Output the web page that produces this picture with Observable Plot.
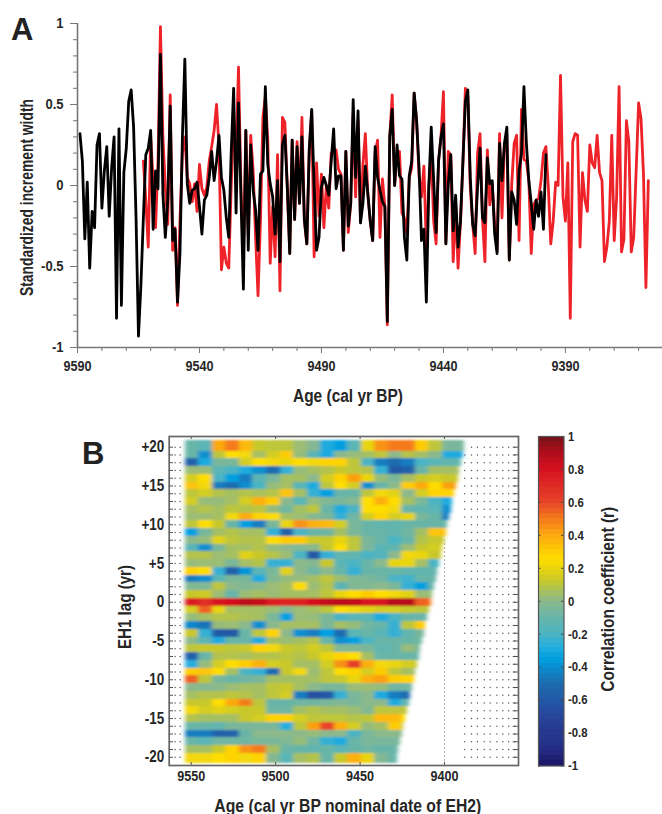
<!DOCTYPE html>
<html>
<head>
<meta charset="utf-8">
<script src="https://cdn.jsdelivr.net/npm/d3@7"></script>
<script src="https://cdn.jsdelivr.net/npm/@observablehq/plot@0.6"></script>
<style>
html,body{margin:0;padding:0;background:#fff;}
#page{position:relative;width:662px;height:814px;overflow:hidden;font-family:"Liberation Sans",sans-serif;}
.pane{position:absolute;}
.letter{position:absolute;font:bold 31px "Liberation Sans",sans-serif;color:#222;line-height:1;}
</style>
</head>
<body>
<svg width="0" height="0" style="position:absolute"><filter id="soft" x="-3%" y="-3%" width="106%" height="106%"><feGaussianBlur stdDeviation="2.2 0.9"/></filter></svg>
<div id="page"></div>
<script>
const FONT = '"Liberation Sans",sans-serif';
const INK = "#262626", AXIS = "#777";

// Panel A: standardized increment widths (one value per year)
const blackFirstAge = 9589;
const blackValues = [
 .32,.15,-.33,.02,-.51,-.16,-.26,.25,.32,-.14,
 .09,.24,-.19,.11,.30,-.82,.35,-.74,.08,.23,
 .52,.59,.36,-.20,-.93,-.61,-.20,.19,.23,.34,
 -.27,.09,-.02,.81,-.05,-.32,-.09,.49,-.34,-.27,
 -.72,-.42,.30,.78,.01,-.11,-.03,-.02,.02,-.13,
 -.30,-.09,-.06,.05,.21,.03,.15,.31,.05,-.03,
 -.20,-.32,.20,.60,-.17,.51,-.07,-.64,.34,-.40,
 .25,-.03,-.15,-.40,.07,.09,.61,.13,.01,-.07,
 -.30,
 .03,-.47,.25,.31,-.01,-.42,.28,-.21,.24,-.11,
 .30,-.21,-.36,.22,.47,-.01,-.40,-.32,-.01,.05,
 0,-.06,.15,.35,-.02,.06,.06,-.40,.21,-.25,
 -.11,.53,.05,.46,-.23,-.11,.12,-.05,-.22,-.34,
 .24,.05,-.03,-.10,-.13,-.84,.30,.47,0,.25,
 .06,.04,-.32,-.46,.06,.15,.57,.40,.11,-.34,
 -.27,-.72,-.01,.36,.03,-.29,.15,.30,.38,-.36,
 .01,.19,-.28,-.06,-.38,-.22,.15,.52,.59,
 .05,-.24,-.31,-.01,.23,-.20,-.23,.17,.01,.03,
 -.30,-.42,.26,.03,.26,.36,-.46,-.04,-.09,-.24,
 .09,.20,.61,.26,.03,-.11,-.27,-.09,-.19,-.04,
 -.27,.19
];
const redFirstAge = 9563;
const redValues = [
 .15,-.09,-.38,.30,
 .03,-.26,.15,.98,.30,-.01,-.24,.56,-.40,-.26,
 -.74,-.22,.20,.30,.05,.01,-.10,.01,-.16,.13,
 -.02,-.06,-.01,.15,.24,.34,.50,.24,-.52,-.38,
 -.48,-.51,-.01,.40,.20,.73,-.01,-.46,.34,-.30,
 .31,.09,-.32,-.68,-.22,.42,.55,.28,-.48,-.13,
 -.44,
 .19,-.65,.42,.39,-.01,-.42,.28,-.21,.27,-.11,
 .42,-.22,-.36,.22,.46,-.44,.14,-.19,.07,-.26,
 0,-.14,.20,.22,.22,.10,.07,-.40,.21,-.29,
 -.11,.44,-.07,.40,-.23,.13,.32,-.05,-.22,-.34,
 .20,.28,-.32,.04,-.13,-.86,.30,.56,0,.20,
 .21,-.17,-.20,-.30,.05,.11,.57,.40,.06,-.07,
 .12,-.38,-.01,.20,-.22,-.36,.15,.30,.58,-.36,
 .21,.19,-.47,-.13,-.51,-.22,.15,.60,.55,
 -.01,-.24,-.42,.20,.32,-.20,-.47,.22,-.12,.01,
 -.24,-.40,.32,-.20,.24,.32,-.46,.01,.26,.31,
 -.34,.47,.16,.15,.03,-.42,-.12,-.09,-.08,.03,
 .20,.24,-.01,-.36,-.22,.02,0,.68,-.07,-.22,
 .14,-.82,.27,.32,.31,-.38,.08,-.09,-.16,.25,
 .14,.11,.31,.08,.03,-.47,-.38,-.22,.31,-.34,
 -.07,.61,-.41,-.33,.40,.27,-.41,-.32,.09,.51,
 .41,.07,-.63,.03
];
const ageTicksA = [9590,9540,9490,9440,9390];
const ageMinorA = [9580,9570,9560,9550,9530,9520,9510,9500,9480,9470,9460,9450,9430,9420,9410,9400,9380,9370,9360];
const widthTicks = [-1,-.5,0,.5,1];
const widthMinor = [-.9,-.8,-.7,-.6,-.4,-.3,-.2,-.1,.1,.2,.3,.4,.6,.7,.8,.9];

// Panel B: correlation read per 8-yr block, lag +20 (top) to -20 (bottom)
const lags = d3.range(20,-21,-1);
const corrByLag = [
 [-.1,-.15,.4,.5,.35,.12,.1,.1,.03,-.02,-.3,-.35,-.15,.2,.45,.5,.5,.3,.1,-.05,-.05],
 [-.1,-.4,.1,.25,.22,.05,.15,.3,.02,-.15,-.3,0,.02,.05,.1,0,.08,.05,0,-.3,-.3],
 [-.55,-.3,-.05,-.05,.15,.25,.22,.2,.25,.22,.28,.28,.1,-.2,-.45,-.5,-.45,-.2,-.15,-.12],
 [.03,.03,-.15,-.2,-.3,-.4,-.5,-.25,.02,.05,.08,.12,.1,.08,-.25,-.6,-.55,-.1,.05,.05],
 [.15,.25,-.2,-.35,-.45,-.15,-.05,.05,.05,0,.15,.28,.42,.2,.02,-.05,.05,.12,.15,.12],
 [.32,.22,-.45,-.5,-.4,-.2,.02,.05,-.15,-.3,.1,.25,.15,-.4,-.1,0,.3,.4,.25,.42],
 [.1,.15,.08,.05,.08,.06,.08,.32,.05,-.25,-.35,-.1,-.1,.1,.22,.18,0,.15,.28,.28],
 [.15,.02,.02,.05,.15,.38,.3,0,-.15,.02,-.03,-.05,-.02,.25,.38,.25,.05,-.05,-.2,-.3],
 [.05,.08,.05,.1,.08,.1,.02,-.08,.05,.1,-.1,-.3,-.2,.25,.25,.22,-.1,-.12,-.15,-.4],
 [.03,.03,.05,.22,.4,.28,.25,.05,.03,-.02,-.05,-.25,-.08,.15,.28,.15,.2,-.05,-.1,-.45],
 [.1,.25,.12,-.1,-.35,-.45,-.05,.2,.45,.38,.35,.15,-.05,-.1,-.12,-.12,-.1,-.1,-.1,-.1],
 [-.35,-.05,.05,.08,.05,.05,-.25,-.55,-.2,-.1,-.08,.05,-.05,-.1,-.1,-.12,-.08,.05,.32,.32],
 [0,.02,.18,.1,.08,.08,.25,.3,.3,.12,.12,.2,.1,-.05,-.1,-.2,-.1,.08,.12,.12],
 [-.15,-.4,-.05,.05,.05,.08,.02,0,-.03,0,.12,.25,.1,-.05,-.15,-.12,.03,.12,.15],
 [.08,.08,.03,.05,.18,.12,.08,.03,-.2,-.6,-.25,-.12,-.12,-.2,-.18,0,.22,.2,.12],
 [.02,.03,.03,-.05,.05,.08,-.25,-.25,0,-.02,.12,-.15,-.2,-.1,0,.2,.2,.05,-.2],
 [.28,.25,-.25,-.55,-.38,-.15,-.05,.18,0,-.08,0,-.1,-.25,-.1,-.1,-.1,-.12,-.12,-.12],
 [-.45,-.4,-.15,-.05,-.05,-.3,-.03,.02,.02,.05,.1,.03,-.03,-.05,-.08,-.2,-.22,-.1,-.1],
 [-.03,-.03,.1,0,-.03,0,.03,.05,.25,.03,.08,-.15,-.03,-.03,0,-.05,-.25,-.35,-.1],
 [.12,.13,.03,-.1,.03,.05,.03,.05,.05,.05,.1,.2,.25,.3,.25,.22,.18,.03,.02],
 [.75,.68,.78,.8,.87,.85,.75,.72,.72,.8,.85,.87,.85,.78,.78,.88,.88,.55,.5],
 [.15,.55,.2,.05,.05,.05,.03,-.02,.03,.05,.1,.25,.22,.18,.15,.15,.12,.1,.1],
 [.02,.05,.08,.08,.06,.05,-.05,-.35,.03,.02,-.05,-.2,-.15,-.15,-.3,-.2,-.1,-.1],
 [-.42,-.48,.02,.03,0,-.4,0,.05,.05,.05,-.05,.05,.02,-.08,-.1,-.25,.1,.3],
 [.12,-.25,-.58,-.6,-.1,.1,.28,0,-.4,-.45,-.35,-.5,-.15,-.1,-.15,-.25,-.12,-.05],
 [0,-.15,-.3,-.1,-.1,-.3,.05,.03,.05,.08,-.1,-.4,-.35,-.2,-.1,-.1,-.1,-.08],
 [.1,.12,.12,.1,.12,.28,.22,.12,.1,.15,.1,-.03,-.03,-.05,-.12,-.1,.02,-.05],
 [-.55,-.1,.08,.08,.06,.08,.08,.1,.08,.12,.2,.28,.25,.05,-.1,-.1,-.1,-.1],
 [-.28,.02,.15,.25,.3,.38,.15,.12,.05,.05,.15,.45,.62,.38,.22,.2,.15,.1],
 [.3,.32,.25,.05,-.2,-.25,-.5,.12,.22,.03,.1,.25,.28,.15,.3,.1,.05],
 [.55,.1,-.05,-.1,-.08,-.05,.05,.05,.05,.05,.1,.12,.2,.38,.42,.3,.28],
 [0,-.02,0,.03,.05,.05,.1,.12,.05,0,-.05,-.05,.03,.03,.02,-.08,-.08],
 [.05,.08,.08,.1,.08,.05,.1,.15,-.45,-.65,-.6,-.25,-.05,0,-.3,-.45,-.5],
 [.12,.12,.25,.4,.5,.1,-.1,-.1,-.08,-.08,-.05,-.03,-.05,0,0,-.3,-.12],
 [.22,.15,.18,.15,.12,.12,-.08,-.08,.05,.08,.05,.05,.03,-.03,.1,.1],
 [.08,.05,.05,.05,.12,.15,.28,.28,.15,.1,.1,.1,.08,.1,.35,.35,.25],
 [-.1,-.1,-.12,-.05,-.05,-.05,-.05,-.28,.1,.42,.6,.38,.15,.02,.05,.3,.1],
 [-.45,-.45,-.55,-.55,-.1,0,0,0,0,.02,0,0,-.2,-.05,0,0],
 [-.1,-.15,-.08,-.08,-.08,-.05,-.05,-.03,.02,-.08,-.25,-.3,-.1,-.05,-.05,-.05],
 [.05,.05,.12,.28,.45,.5,.05,-.1,-.1,-.12,-.1,-.15,-.1,-.08,-.1,-.1],
 [.22,.22,.25,.28,.22,.28,-.02,-.15,.05,.08,-.1,.12,.38,.2,-.03,-.1]
];
const firstBlockAge = 9553.4, blockYears = 8;
const lastAgeAtLagMinus20 = 9428;
const lagTicks = [20,15,10,5,0,-5,-10,-15,-20];
const ageTicksB = [9550,9500,9450,9400];
const dotAgesLeft = [9559.5,9556.5];
const dotAgesRight = [9388,9384,9380.5,9376.5,9373,9369,9365.5,9362,9358.5];

// Colour bar
const colorStops = [-1,-.9,-.7,-.5,-.35,-.28,-.2,-.1,0,.12,.25,.4,.5,.6,.8,.9,1];
const colorValues = ["#1b1464","#252d85","#27459b","#1d6cb0","#00a0e0","#25aede","#4cb4c4","#68b5a8","#8cb98c","#c8c82a","#fedd00","#fca90f","#f47a1a","#e8432a","#d5101f","#b00d1c","#701418"];
const barLevels = d3.range(-1,1,2/64);
const barTicks = [-1,-.8,-.6,-.4,-.2,0,.2,.4,.6,.8,1];

// Widths of the narrow bold lettering in the reference (no narrow face is installed)
const titleWidths = {"Age (cal yr BP)":110,"Standardized increment width":197,"Age (cal yr BP nominal date of EH2)":267,"EH1 lag (yr)":84,"Correlation coefficient (r)":185};
const tickNarrow = .84;

const colorScale = {type:"linear",domain:colorStops,range:colorValues,clamp:true};
const fmt = d=>d===0?"0":String(d);
const page = document.getElementById("page");
function place(el,left,top){
  el.classList.add("pane");el.style.left=left+"px";el.style.top=top+"px";page.appendChild(el);
  el.querySelectorAll("text").forEach(t=>{
    const w=t.getComputedTextLength();
    if(!w) return;
    const target=titleWidths[t.textContent]||w*tickNarrow;
    t.setAttribute("lengthAdjust","spacingAndGlyphs");
    t.setAttribute("textLength",target);
  });
}
function letter(t,l,tp){const d=document.createElement("div");d.className="letter";d.textContent=t;d.style.left=l+"px";d.style.top=tp+"px";page.appendChild(d);}

// ---- A ----
const blackData = blackValues.map((v,i)=>({age:blackFirstAge-i,v}));
const redData = redValues.map((v,i)=>({age:redFirstAge-i,v}));
const plotA = Plot.plot({
  width:662,height:410,marginLeft:77,marginRight:0,marginTop:23,marginBottom:63,
  style:{fontFamily:FONT,background:"transparent",overflow:"visible"},
  x:{domain:[9590,9350.2]},y:{domain:[-1,1]},
  marks:[
    Plot.line(redData,{x:"age",y:"v",stroke:"#ee2229",strokeWidth:2.8,strokeLinejoin:"round"}),
    Plot.line(blackData,{x:"age",y:"v",stroke:"#000",strokeWidth:2.8,strokeLinejoin:"round"}),
    Plot.ruleX([9590],{stroke:AXIS,strokeWidth:1.6}),
    Plot.ruleY([-1],{stroke:AXIS,strokeWidth:1.6}),
    Plot.axisY({ticks:widthMinor,tickSize:4,text:null,label:null,stroke:AXIS}),
    Plot.axisY({ticks:widthTicks,tickSize:7,tickPadding:7,tickFormat:fmt,label:null,stroke:AXIS,fill:INK,fontSize:15.5,fontWeight:"bold"}),
    Plot.axisX({ticks:ageMinorA,tickSize:4,text:null,label:null,stroke:AXIS}),
    Plot.axisX({ticks:ageTicksA,tickSize:6,tickPadding:7,tickFormat:String,label:null,stroke:AXIS,fill:INK,fontSize:15,fontWeight:"bold"}),
    Plot.text(["Age (cal yr BP)"],{text:d=>d,frameAnchor:"bottom",textAnchor:"middle",dx:-22,dy:54,fontSize:18,fontWeight:"bold",fill:INK}),
    Plot.text(["Standardized increment width"],{text:d=>d,frameAnchor:"left",textAnchor:"middle",dx:-50,dy:12,rotate:-90,fontSize:18,fontWeight:"bold",fill:INK})
  ]
});
place(plotA,0,0);

// ---- B ----
const rowEnd = lag=>lastAgeAtLagMinus20-(lag+20);
const cells = [];
corrByLag.forEach((row,n)=>{
  const lag = lags[n], end = rowEnd(lag);
  row.forEach((r,k)=>{
    const a = firstBlockAge-blockYears*k;
    if(a<=end) return;
    const b = k===row.length-1?end:Math.max(a-blockYears,end);
    cells.push({x1:a,x2:b,y1:lag===-20?-20.75:lag-.5,y2:lag===20?20.85:lag+.5,r});
  });
});
const dotCells = lags.flatMap(lag=>[
  ...dotAgesLeft.map(age=>({age,lag})),
  ...dotAgesRight.filter(age=>age<rowEnd(lag)-.6).map(age=>({age,lag}))
]);
const plotB = Plot.plot({
  width:530,height:394,marginLeft:168.7,marginRight:12,marginTop:16,marginBottom:49,
  style:{fontFamily:FONT,background:"transparent",overflow:"visible"},
  x:{domain:[9563,9356.2]},y:{domain:[-21.06,21.38]},color:colorScale,
  marks:[
    Plot.dot(dotCells,{x:"age",y:"lag",r:.7,fill:"#555"}),
    Plot.ruleX([9400],{y1:-21,y2:8,stroke:"#666",strokeDasharray:"1 3",strokeWidth:1}),
    Plot.rect(cells,{x1:"x1",x2:"x2",y1:"y1",y2:"y2",fill:"r",shapeRendering:"crispEdges",imageFilter:"url(#soft)"}),
    Plot.ruleY(lags,{insetRight:345,stroke:"#555",strokeWidth:1}),
    Plot.ruleY(lags,{insetLeft:344,stroke:"#555",strokeWidth:1}),
    Plot.ruleX(ageTicksB,{insetBottom:326,stroke:"#555",strokeWidth:1}),
    Plot.ruleX(ageTicksB,{insetTop:326,stroke:"#555",strokeWidth:1}),
    Plot.frame({stroke:"#666",strokeWidth:1.7}),
    Plot.axisY({ticks:lagTicks,tickSize:0,tickPadding:5,tickFormat:d=>d>0?"+"+d:String(d),label:null,fill:INK,fontSize:16,fontWeight:"bold"}),
    Plot.axisX({ticks:ageTicksB,tickSize:0,tickPadding:5,tickFormat:String,label:null,fill:INK,fontSize:15,fontWeight:"bold"}),
    Plot.text(["Age (cal yr BP nominal date of EH2)"],{text:d=>d,frameAnchor:"bottom",textAnchor:"middle",dy:46,dx:4,fontSize:18,fontWeight:"bold",fill:INK}),
    Plot.text(["EH1 lag (yr)"],{text:d=>d,frameAnchor:"left",textAnchor:"middle",dx:-44,dy:6,rotate:-90,fontSize:18,fontWeight:"bold",fill:INK})
  ]
});
place(plotB,0,420);

// ---- Colour bar ----
const plotC = Plot.plot({
  width:132,height:394,marginLeft:8,marginRight:98.5,marginTop:16,marginBottom:48.5,
  style:{fontFamily:FONT,background:"transparent",overflow:"visible"},
  x:{axis:null,domain:[0,1]},y:{domain:[-1,1]},color:colorScale,
  marks:[
    Plot.rect(barLevels,{x1:0,x2:1,y1:d=>d,y2:d=>d+2/64,fill:d=>d+1/64,shapeRendering:"crispEdges"}),
    Plot.ruleY(barTicks,{insetRight:23,stroke:"#444",strokeWidth:1}),
    Plot.ruleY(barTicks,{insetLeft:23,stroke:"#444",strokeWidth:1}),
    Plot.frame({stroke:"#555",strokeWidth:1.2}),
    Plot.axisY({anchor:"right",ticks:barTicks,tickSize:0,tickPadding:4,tickFormat:fmt,label:null,fill:INK,fontSize:13.5,fontWeight:"bold"}),
    Plot.text(["Correlation coefficient (r)"],{text:d=>d,frameAnchor:"right",textAnchor:"middle",dx:44,dy:-2,rotate:-90,fontSize:18,fontWeight:"bold",fill:INK})
  ]
});
place(plotC,530,420);

letter("A",11,14);
letter("B",82,438);
</script>
</body>
</html>
